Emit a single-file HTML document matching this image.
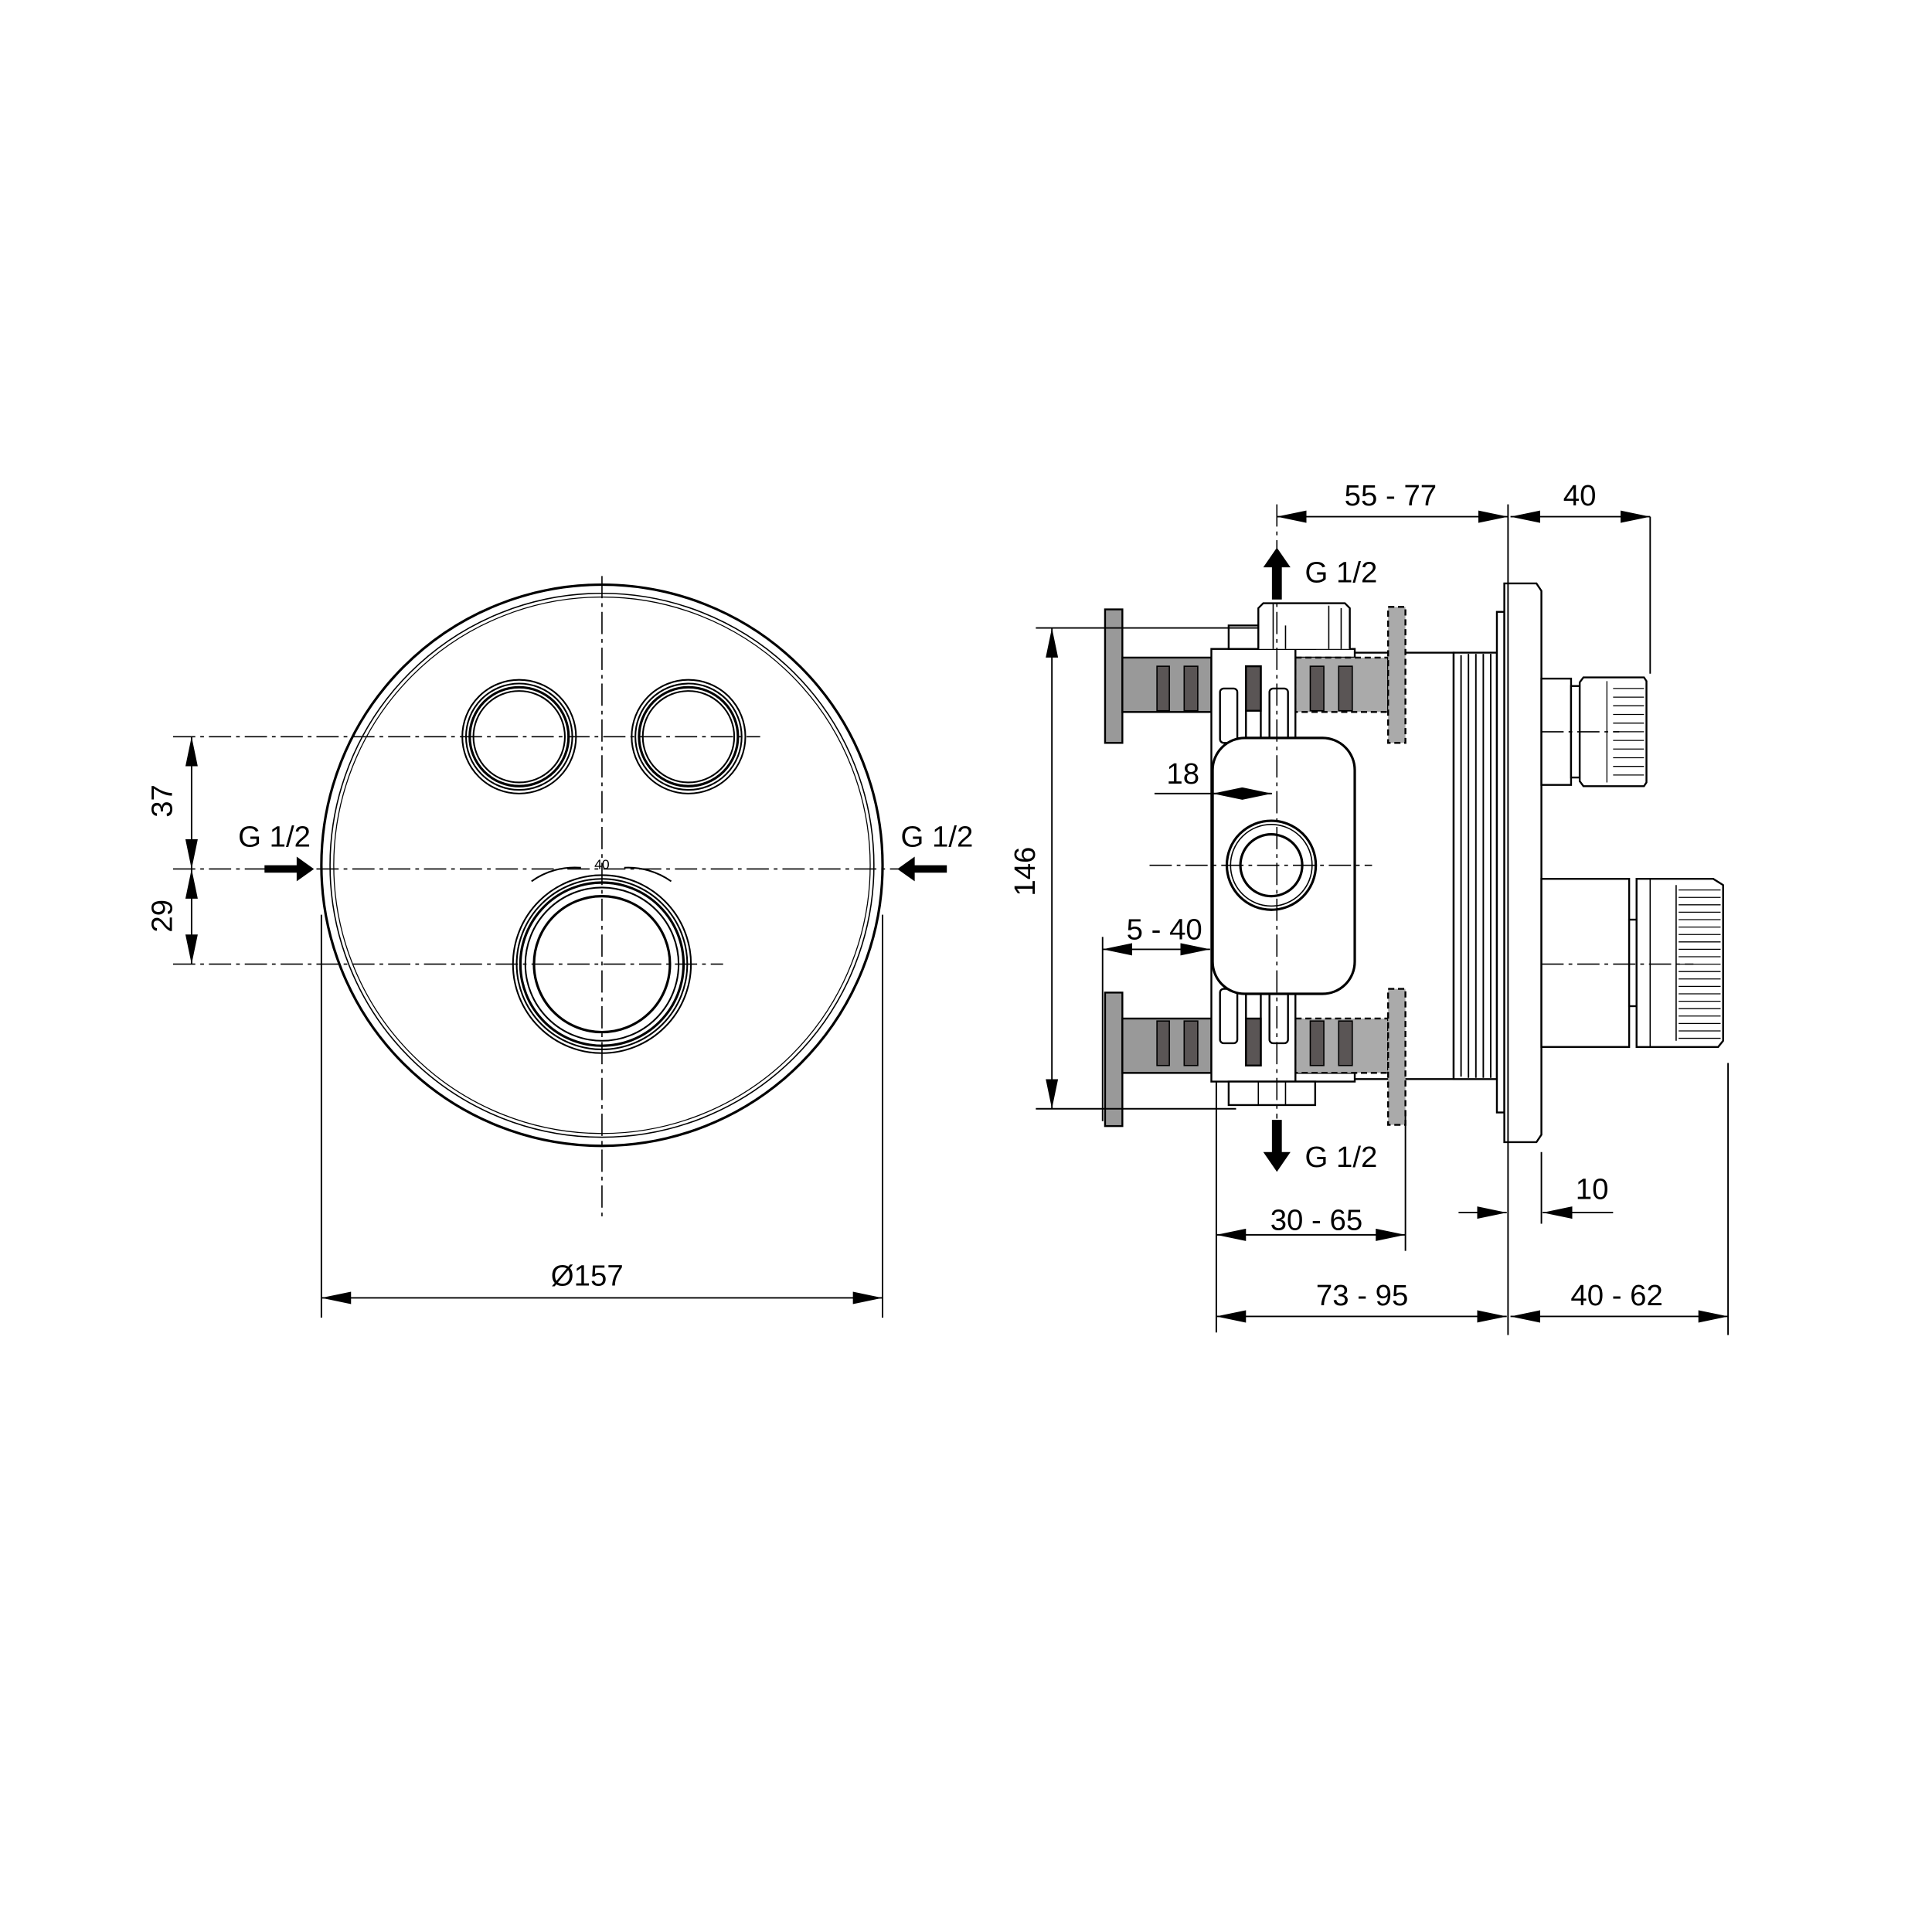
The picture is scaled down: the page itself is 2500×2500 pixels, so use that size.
<!DOCTYPE html>
<html><head><meta charset="utf-8"><style>html,body{margin:0;padding:0;background:#fff}svg{display:block}</style></head>
<body>
<svg xmlns="http://www.w3.org/2000/svg" width="2500" height="2500" viewBox="0 0 1563 1563">
<defs>
<marker id="a" markerWidth="24" markerHeight="10" refX="24" refY="5" orient="auto-start-reverse" markerUnits="userSpaceOnUse"><path d="M0,0 L24,5 L0,10 Z" fill="#000"/></marker>
</defs>
<g fill="none" stroke="#000" font-family="Liberation Sans, sans-serif">
<!-- LEFT VIEW -->
<circle cx="487" cy="700" r="227" stroke-width="2"/>
<circle cx="487" cy="700" r="220" stroke-width="1"/>
<circle cx="487" cy="700" r="217" stroke-width="0.8"/>
<g stroke-width="1.3">
<circle cx="420" cy="596" r="46"/><circle cx="420" cy="596" r="43"/><circle cx="420" cy="596" r="40" stroke-width="2"/><circle cx="420" cy="596" r="37"/>
<circle cx="557" cy="596" r="46"/><circle cx="557" cy="596" r="43"/><circle cx="557" cy="596" r="40" stroke-width="2"/><circle cx="557" cy="596" r="37"/>
<circle cx="487" cy="780" r="72"/><circle cx="487" cy="780" r="69"/><circle cx="487" cy="780" r="66" stroke-width="2"/><circle cx="487" cy="780" r="62"/><circle cx="487" cy="780" r="55" stroke-width="2"/>
<path d="M430,713 A60,60 0 0 1 470,702 M505,702 A60,60 0 0 1 543,713"/>
</g>
<g stroke-width="1" stroke-dasharray="18,4,3,4">
<line x1="487" y1="466" x2="487" y2="985"/>
<line x1="140" y1="596" x2="615" y2="596"/>
<line x1="140" y1="703" x2="755" y2="703"/>
<line x1="140" y1="780" x2="585" y2="780"/>
</g>
<g stroke-width="1.2">
<line x1="155" y1="596" x2="155" y2="703" marker-start="url(#a)" marker-end="url(#a)"/>
<line x1="155" y1="703" x2="155" y2="780" marker-start="url(#a)" marker-end="url(#a)"/>
<line x1="260" y1="740" x2="260" y2="1066"/>
<line x1="714" y1="740" x2="714" y2="1066"/>
<line x1="260" y1="1050" x2="714" y2="1050" marker-start="url(#a)" marker-end="url(#a)"/>
</g>
<path d="M214,700 h26 v-7 l14,10 l-14,10 v-7 h-26 Z M766,700 h-26 v-7 l-14,10 l14,10 v-7 h26 Z" fill="#000" stroke="none"/>
<g fill="#000" stroke="none" font-size="24">
<text x="222" y="685" text-anchor="middle">G 1/2</text>
<text x="758" y="685" text-anchor="middle">G 1/2</text>
<text x="475" y="1040" text-anchor="middle">Ø157</text>
<text transform="translate(139,648) rotate(-90)" text-anchor="middle">37</text>
<text transform="translate(139,741) rotate(-90)" text-anchor="middle">29</text>
<text x="487" y="703" text-anchor="middle" font-size="11">40</text>
</g>

<!-- RIGHT VIEW -->
<g stroke-width="1.5">
<!-- body -->
<path d="M1096,528 H1176 V873 H1096" fill="#fff"/>
<rect x="1176" y="528" width="35" height="345" fill="#fff"/>
<path d="M1182,530V871 M1188,529V872 M1194,529V872 M1200,529V872 M1206,529V872" stroke-width="1.2"/>
<rect x="1211" y="495" width="6" height="405" fill="#fff"/>
<path d="M1217,472 H1243 L1247,478 V918 L1243,924 H1217 Z" fill="#fff"/>
<rect x="1048" y="525" width="48" height="7" fill="#fff"/>
<rect x="1048" y="868" width="48" height="7" fill="#fff"/>
<!-- gray flanges/rods -->
<rect x="894" y="493" width="14" height="108" fill="#999"/>
<rect x="894" y="803" width="14" height="108" fill="#999"/>
<rect x="908" y="532" width="72" height="44" fill="#999"/>
<rect x="908" y="824" width="72" height="44" fill="#999"/>
<rect x="1048" y="532" width="75" height="44" fill="#aaa" stroke-dasharray="5,3"/>
<rect x="1048" y="824" width="75" height="44" fill="#aaa" stroke-dasharray="5,3"/>
<rect x="1123" y="491" width="14" height="110" fill="#aaa" stroke-dasharray="5,3"/>
<rect x="1123" y="800" width="14" height="110" fill="#aaa" stroke-dasharray="5,3"/>
<g fill="#5a5555" stroke-width="1">
<rect x="936" y="539" width="10" height="36"/><rect x="958" y="539" width="11" height="36"/>
<rect x="936" y="826" width="10" height="36"/><rect x="958" y="826" width="11" height="36"/>
<rect x="1060" y="539" width="11" height="36"/><rect x="1083" y="539" width="11" height="36"/>
<rect x="1060" y="826" width="11" height="36"/><rect x="1083" y="826" width="11" height="36"/>
</g>
<!-- bracket -->
<rect x="980" y="525" width="68" height="350" fill="#fff"/>
<rect x="994" y="506" width="70" height="19" fill="#fff"/>
<path d="M1018,525 V492 L1022,488 H1088 L1092,492 V525" fill="#fff"/>
<path d="M1030,488V525 M1075,490V525 M1085,492V525" stroke-width="1"/>
<rect x="994" y="875" width="70" height="19" fill="#fff"/>
<path d="M1018,875V894 M1040,875V894" stroke-width="1"/>
<path d="M1018,506V525 M1040,506V525" stroke-width="1"/>
<rect x="987" y="557" width="14" height="44" rx="3" fill="#fff"/>
<rect x="1027" y="557" width="15" height="44" rx="3" fill="#fff"/>
<rect x="1008" y="539" width="12" height="62" fill="#fff"/>
<rect x="1008" y="539" width="12" height="36" fill="#5a5555"/>
<rect x="987" y="800" width="14" height="44" rx="3" fill="#fff"/>
<rect x="1027" y="800" width="15" height="44" rx="3" fill="#fff"/>
<rect x="1008" y="800" width="12" height="62" fill="#fff"/>
<rect x="1008" y="824" width="12" height="38" fill="#5a5555"/>
<rect x="981" y="597" width="115" height="207" rx="26" fill="#fff" stroke-width="2"/>
<circle cx="1028.5" cy="700" r="36" stroke-width="2"/>
<circle cx="1028.5" cy="700" r="33" stroke-width="1"/>
<circle cx="1028.5" cy="700" r="25" stroke-width="2"/>
<!-- upper spout -->
<rect x="1247" y="549" width="24" height="86" fill="#fff"/>
<rect x="1271" y="555" width="7" height="74" fill="#fff"/>
<path d="M1278,552 L1281,548 H1330 L1332,551 V633 L1330,636 H1281 L1278,632 Z" fill="#fff"/>
<path d="M1300,551 V633 M1305,557H1330 M1305,564H1330 M1305,571H1330 M1305,578H1330 M1305,585H1330 M1305,592H1330 M1305,599H1330 M1305,606H1330 M1305,613H1330 M1305,620H1330 M1305,627H1330" stroke-width="0.8"/>
<!-- lower knob -->
<rect x="1247" y="711" width="71" height="136" fill="#fff"/>
<rect x="1318" y="744" width="6" height="70" fill="#fff"/>
<path d="M1324,711 H1386 L1394,716 V842 L1390,847 H1324 Z" fill="#fff"/>
<path d="M1335,711 V847 M1356,716 V842" stroke-width="1"/>
<path d="M1358,720H1392 M1358,726H1392 M1358,732H1392 M1358,738H1392 M1358,744H1392 M1358,750H1392 M1358,756H1392 M1358,762H1392 M1358,768H1392 M1358,774H1392 M1358,780H1392 M1358,786H1392 M1358,792H1392 M1358,798H1392 M1358,804H1392 M1358,810H1392 M1358,816H1392 M1358,822H1392 M1358,828H1392 M1358,834H1392 M1358,840H1392" stroke-width="0.8"/>
</g>
<g stroke-width="1" stroke-dasharray="18,4,3,4">
<line x1="1033" y1="408" x2="1033" y2="905"/>
<line x1="930" y1="700" x2="1110" y2="700"/>
<line x1="1247" y1="592" x2="1310" y2="592"/>
<line x1="1247" y1="780" x2="1370" y2="780"/>
</g>
<!-- dimensions -->
<g stroke-width="1.2">
<line x1="1220" y1="408" x2="1220" y2="1080"/>
<line x1="1335" y1="418" x2="1335" y2="545"/>
<line x1="1033" y1="418" x2="1220" y2="418" marker-start="url(#a)" marker-end="url(#a)"/>
<line x1="1222" y1="418" x2="1335" y2="418" marker-start="url(#a)" marker-end="url(#a)"/>
<line x1="838" y1="508" x2="1018" y2="508"/>
<line x1="838" y1="897" x2="1000" y2="897"/>
<line x1="851" y1="508" x2="851" y2="897" marker-start="url(#a)" marker-end="url(#a)"/>
<line x1="934" y1="642" x2="1028" y2="642"/>
<line x1="1004" y1="642" x2="981" y2="642" marker-end="url(#a)"/>
<line x1="1006" y1="642" x2="1029" y2="642" marker-end="url(#a)"/>
<line x1="892" y1="758" x2="892" y2="907"/>
<line x1="892" y1="768" x2="979" y2="768" marker-start="url(#a)" marker-end="url(#a)"/>
<line x1="1137" y1="900" x2="1137" y2="1012"/>
<line x1="984" y1="999" x2="1137" y2="999" marker-start="url(#a)" marker-end="url(#a)"/>
<line x1="984" y1="875" x2="984" y2="1078"/>
<line x1="1247" y1="932" x2="1247" y2="990"/>
<line x1="1180" y1="981" x2="1219" y2="981" marker-end="url(#a)"/>
<line x1="1305" y1="981" x2="1248" y2="981" marker-end="url(#a)"/>
<line x1="1398" y1="860" x2="1398" y2="1080"/>
<line x1="984" y1="1065" x2="1219" y2="1065" marker-start="url(#a)" marker-end="url(#a)"/>
<line x1="1222" y1="1065" x2="1398" y2="1065" marker-start="url(#a)" marker-end="url(#a)"/>
</g>
<path d="M1029,485 v-26 h-7 l11,-16 l11,16 h-7 v26 Z M1029,906 v26 h-7 l11,16 l11,-16 h-7 v-26 Z" fill="#000" stroke="none"/>
<g fill="#000" stroke="none" font-size="24">
<text x="1125" y="409" text-anchor="middle">55 - 77</text>
<text x="1278" y="409" text-anchor="middle">40</text>
<text x="1085" y="471" text-anchor="middle">G 1/2</text>
<text x="1085" y="944" text-anchor="middle">G 1/2</text>
<text x="957" y="634" text-anchor="middle">18</text>
<text x="942" y="760" text-anchor="middle">5 - 40</text>
<text transform="translate(837,705) rotate(-90)" text-anchor="middle">146</text>
<text x="1065" y="995" text-anchor="middle">30 - 65</text>
<text x="1288" y="970" text-anchor="middle">10</text>
<text x="1102" y="1056" text-anchor="middle">73 - 95</text>
<text x="1308" y="1056" text-anchor="middle">40 - 62</text>
</g>
</g>
</svg>
</body></html>
